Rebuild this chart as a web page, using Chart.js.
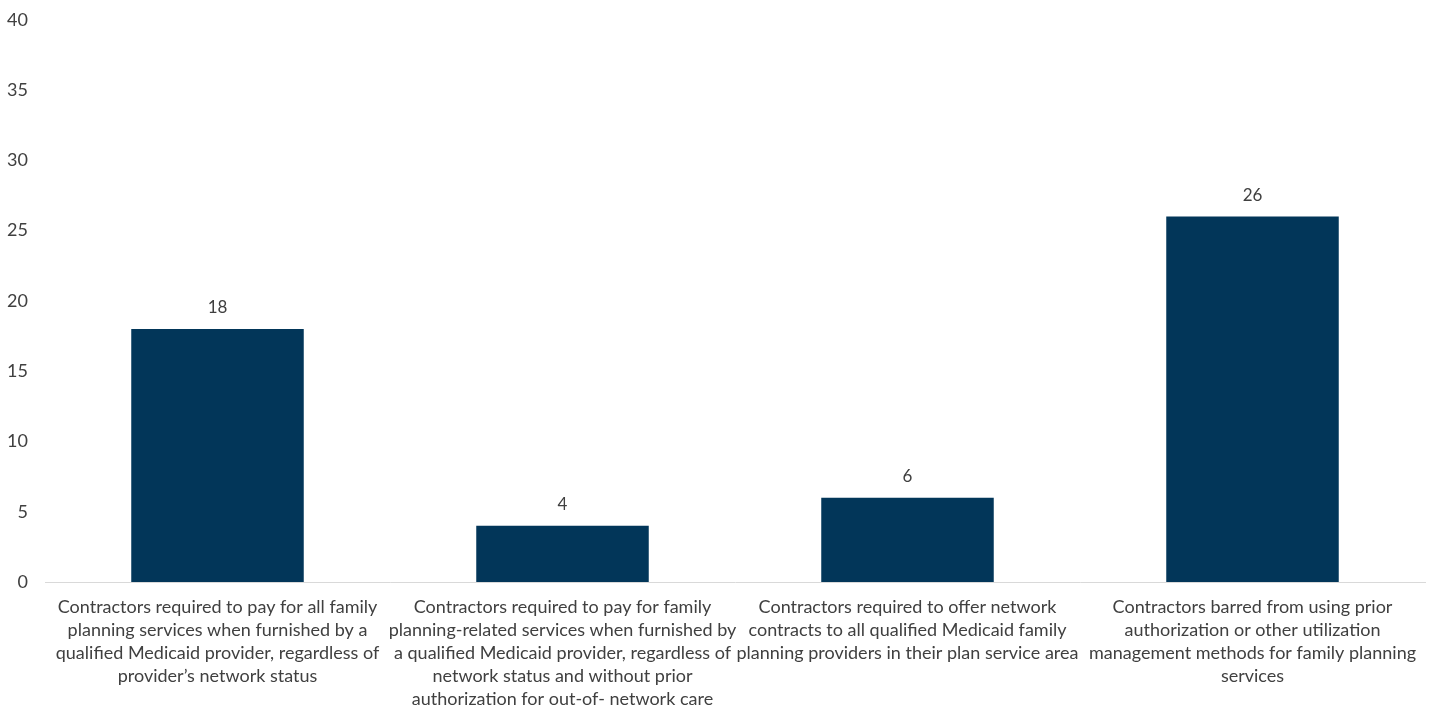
<!DOCTYPE html>
<html>
<head>
<meta charset="utf-8">
<script src="https://cdn.jsdelivr.net/npm/chart.js@4.4.1/dist/chart.umd.min.js"></script>
<style>
  html, body { margin: 0; padding: 0; background: #fff; }
  #wrap { width: 1441px; height: 709px; position: relative; }
</style>
</head>
<body>
<div id="wrap"><canvas id="chart"></canvas></div>
<script>
// category labels, already broken into lines like the original
const categories = [
  ['Contractors required to pay for all family', 'planning services when furnished by a', 'qualified Medicaid provider, regardless of', 'provider\u2019s network status'],
  ['Contractors required to pay for family', 'planning-related services when furnished by', 'a qualified Medicaid provider, regardless of', 'network status and without prior', 'authorization for out-of- network care'],
  ['Contractors required to offer network', 'contracts to all qualified Medicaid family', 'planning providers in their plan service area'],
  ['Contractors barred from using prior', 'authorization or other utilization', 'management methods for family planning', 'services']
];
const values = [18, 4, 6, 26];
const yTicks = [0, 5, 10, 15, 20, 25, 30, 35, 40];

const FONT = 'Lato, "Open Sans", sans-serif';
const TEXT = '#404040';

// draws the value above each bar
const valueLabels = {
  id: 'valueLabels',
  afterDatasetsDraw(chart) {
    const ctx = chart.ctx;
    const meta = chart.getDatasetMeta(0);
    ctx.save();
    ctx.font = '17px ' + FONT;
    ctx.fillStyle = TEXT;
    ctx.textAlign = 'center';
    ctx.textBaseline = 'middle';
    meta.data.forEach((bar, i) => {
      const { x, y } = bar.getProps(['x', 'y'], true);
      ctx.fillText(values[i], x, y - 21);
    });
    ctx.restore();
  }
};

new Chart(document.getElementById('chart'), {
  type: 'bar',
  data: {
    labels: categories,
    datasets: [{
      data: values,
      backgroundColor: '#023659',
      barPercentage: 0.5,
      categoryPercentage: 1.0
    }]
  },
  options: {
    responsive: true,
    maintainAspectRatio: false,
    animation: false,
    layout: { padding: { top: 4, right: 16, left: 0, bottom: 0 } },
    plugins: {
      legend: { display: false },
      tooltip: { enabled: false }
    },
    scales: {
      x: {
        grid: { display: false },
        border: { display: true, color: '#D9D9D9', width: 1 },
        ticks: {
          color: TEXT,
          font: { family: FONT, size: 18, lineHeight: '23px' },
          maxRotation: 0,
          autoSkip: false,
          padding: 6
        },
        afterFit(scale) { scale.height = 127; }
      },
      y: {
        min: 0,
        max: 40,
        grid: { display: false },
        border: { display: false },
        afterBuildTicks(scale) { scale.ticks = yTicks.map(v => ({ value: v })); },
        ticks: {
          color: TEXT,
          font: { family: FONT, size: 18 },
          padding: 9
        },
        afterFit(scale) { scale.width = 45; }
      }
    }
  },
  plugins: [valueLabels]
});
</script>
</body>
</html>
